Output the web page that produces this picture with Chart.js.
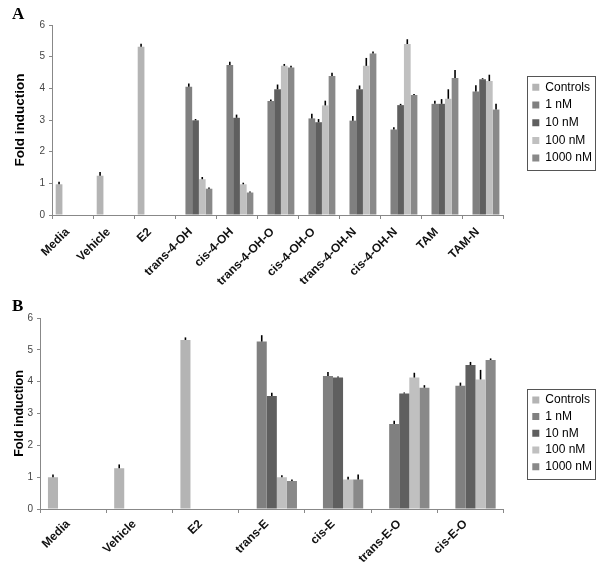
<!DOCTYPE html>
<html><head><meta charset="utf-8">
<script src="https://cdn.jsdelivr.net/npm/chart.js@4"></script>
<style>
html,body{margin:0;padding:0;background:#fff;}
#wrap{position:relative;width:602px;height:572px;overflow:hidden;background:#fff;}
#cA{position:absolute;left:0;top:0;}
#cB{position:absolute;left:0;top:290px;}
</style></head><body>
<div id="wrap"><canvas id="cA" width="602" height="300"></canvas><canvas id="cB" width="602" height="282"></canvas></div>
<script>
// ---- data ----
const seriesNames = ['Controls', '1 nM', '10 nM', '100 nM', '1000 nM'];
const yTicks = [0, 1, 2, 3, 4, 5, 6];

const catsA = ['Media', 'Vehicle', 'E2', 'trans-4-OH', 'cis-4-OH', 'trans-4-OH-O', 'cis-4-OH-O', 'trans-4-OH-N', 'cis-4-OH-N', 'TAM', 'TAM-N'];
const ctrlA   = [0.97, 1.24, 5.31, null, null, null, null, null, null, null, null];
const nM1A    = [null, null, null, 4.05, 4.74, 3.60, 3.05, 2.98, 2.70, 3.51, 3.90];
const nM10A   = [null, null, null, 2.99, 3.07, 3.97, 2.93, 3.97, 3.47, 3.51, 4.29];
const nM100A  = [null, null, null, 1.13, 0.97, 4.71, 3.46, 4.71, 5.40, 3.67, 4.23];
const nM1000A = [null, null, null, 0.83, 0.71, 4.66, 4.39, 5.10, 3.79, 4.33, 3.33];
const errCtrlA   = [0.08, 0.12, 0.10, null, null, null, null, null, null, null, null];
const err1A      = [null, null, null, 0.10, 0.10, 0.05, 0.15, 0.15, 0.07, 0.10, 0.20];
const err10A     = [null, null, null, 0.04, 0.10, 0.15, 0.10, 0.12, 0.04, 0.15, 0.03];
const err100A    = [null, null, null, 0.07, 0.05, 0.06, 0.15, 0.25, 0.15, 0.30, 0.20];
const err1000A   = [null, null, null, 0.04, 0.03, 0.05, 0.10, 0.06, 0.03, 0.25, 0.18];

const catsB = ['Media', 'Vehicle', 'E2', 'trans-E', 'cis-E', 'trans-E-O', 'cis-E-O'];
const ctrlB   = [1.00, 1.28, 5.31, null, null, null, null];
const nM1B    = [null, null, null, 5.26, 4.18, 2.67, 3.87];
const nM10B   = [null, null, null, 3.55, 4.13, 3.63, 4.52];
const nM100B  = [null, null, null, 1.00, 0.93, 4.13, 4.07];
const nM1000B = [null, null, null, 0.88, 0.93, 3.81, 4.68];
const errCtrlB = [0.08, 0.12, 0.08, null, null, null, null];
const err1B    = [null, null, null, 0.20, 0.12, 0.10, 0.10];
const err10B   = [null, null, null, 0.10, 0.03, 0.03, 0.10];
const err100B  = [null, null, null, 0.06, 0.08, 0.15, 0.30];
const err1000B = [null, null, null, 0.05, 0.15, 0.08, 0.05];

// ---- styles ----
const seriesColors = ['#b4b4b4', '#808080', '#5f5f5f', '#c0c0c0', '#898989'];
const FONT = "'Liberation Sans', Arial, sans-serif";

const errorBars = {
  id: 'errorBars',
  afterDatasetsDraw(chart) {
    const ctx = chart.ctx, ys = chart.scales.y;
    chart.data.datasets.forEach((ds, i) => {
      const meta = chart.getDatasetMeta(i);
      meta.data.forEach((bar, j) => {
        const v = ds.data[j], e = ds.errors[j];
        if (v == null || e == null) return;
        const yTop = ys.getPixelForValue(v + e);
        ctx.save();
        ctx.strokeStyle = '#000';
        ctx.lineWidth = 1.6;
        ctx.beginPath();
        ctx.moveTo(bar.x, bar.y);
        ctx.lineTo(bar.x, yTop);
        ctx.stroke();
        ctx.restore();
      });
    });
  }
};

const legendBorder = {
  id: 'legendBorder',
  afterDraw(chart) {
    const lg = chart.legend;
    if (!lg || !lg.legendHitBoxes || !lg.legendHitBoxes.length) return;
    let l = Infinity, t = Infinity, r = -Infinity, b = -Infinity;
    lg.legendHitBoxes.forEach(h => {
      l = Math.min(l, h.left); t = Math.min(t, h.top);
      r = Math.max(r, h.left + h.width); b = Math.max(b, h.top + h.height);
    });
    const ctx = chart.ctx;
    ctx.save();
    ctx.strokeStyle = '#555';
    ctx.lineWidth = 1;
    ctx.strokeRect(Math.round(l - 5) + 0.5, Math.round(t - 5) + 0.5, Math.round(r - l + 8), Math.round(b - t + 11));
    ctx.restore();
  }
};

function makeChart(id, cats, values, errs, cfg) {
  const datasets = values.map((v, i) => ({
    label: seriesNames[i],
    data: v,
    errors: errs[i],
    backgroundColor: seriesColors[i],
    borderWidth: 0,
    yAxisID: 'y',
    categoryPercentage: cfg.catPct,
    barPercentage: 1.0
  }));
  return new Chart(document.getElementById(id), {
    type: 'bar',
    data: { labels: cats, datasets },
    plugins: [errorBars, legendBorder],
    options: {
      responsive: false,
      animation: false,
      layout: { padding: { left: cfg.padLeft, right: 0, top: 0, bottom: 0 } },
      plugins: {
        tooltip: { enabled: false },
        title: {
          display: true, text: cfg.panel, align: 'start', color: '#000',
          font: { family: "'Liberation Serif', 'Times New Roman', serif", size: 17, weight: 'bold' },
          padding: { top: cfg.titleTop, bottom: cfg.titleBottom }
        },
        legend: {
          display: true, position: 'right', fullSize: false, align: 'center',
          title: { display: true, text: '', font: { size: 1, lineHeight: 1 }, padding: { top: cfg.legendShift, bottom: 0 } },
          labels: {
            boxWidth: 7, boxHeight: 7, padding: cfg.legendGap, color: '#000',
            font: { family: FONT, size: 12 }
          }
        }
      },
      scales: {
        y: {
          position: 'left', min: 0, max: 6,
          afterFit: s => { s.width = cfg.yWidth; },
          afterBuildTicks: s => { s.ticks = yTicks.map(v => ({ value: v })); },
          grid: { drawOnChartArea: false, tickLength: 3, color: '#888' },
          border: { display: true, color: '#888', width: 1 },
          ticks: { color: '#444', padding: 4, font: { family: FONT, size: 10 } },
          title: { display: true, text: 'Fold induction', color: '#000', padding: 0,
                   font: { family: FONT, size: cfg.yTitleSize, weight: 'bold' } }
        },
        sp: {
          position: 'right', display: true,
          afterFit: s => { s.width = cfg.gap; },
          grid: { display: false }, ticks: { display: false }, border: { display: false }
        },
        x: {
          afterFit: s => { s.height = cfg.xHeight; },
          grid: { drawOnChartArea: false, tickLength: 4, color: '#888', offset: true },
          border: { display: true, color: '#888', width: 1 },
          ticks: { autoSkip: false, maxRotation: 45, minRotation: 45, color: '#111',
                   padding: cfg.xPad, labelOffset: -5,
                   font: { family: FONT, size: 12, weight: 'bold' } }
        }
      }
    }
  });
}

makeChart('cA', catsA, [ctrlA, nM1A, nM10A, nM100A, nM1000A], [errCtrlA, err1A, err10A, err100A, err1000A], {
  panel: 'A', catPct: 0.82, padLeft: 12, yWidth: 40, xHeight: 85, gap: 23.5, xPad: 6,
  titleTop: 4.2, titleBottom: 0.4, legendShift: 4.4, legendGap: 5.7, yTitleSize: 13.5
});
makeChart('cB', catsB, [ctrlB, nM1B, nM10B, nM100B, nM1000B], [errCtrlB, err1B, err10B, err100B, err1000B], {
  panel: 'B', catPct: 0.76, padLeft: 12, yWidth: 28, xHeight: 63, gap: 24, xPad: 4,
  titleTop: 6.9, titleBottom: 0.7, legendShift: 38.6, legendGap: 4.7, yTitleSize: 12.6
});
</script>
</body></html>
